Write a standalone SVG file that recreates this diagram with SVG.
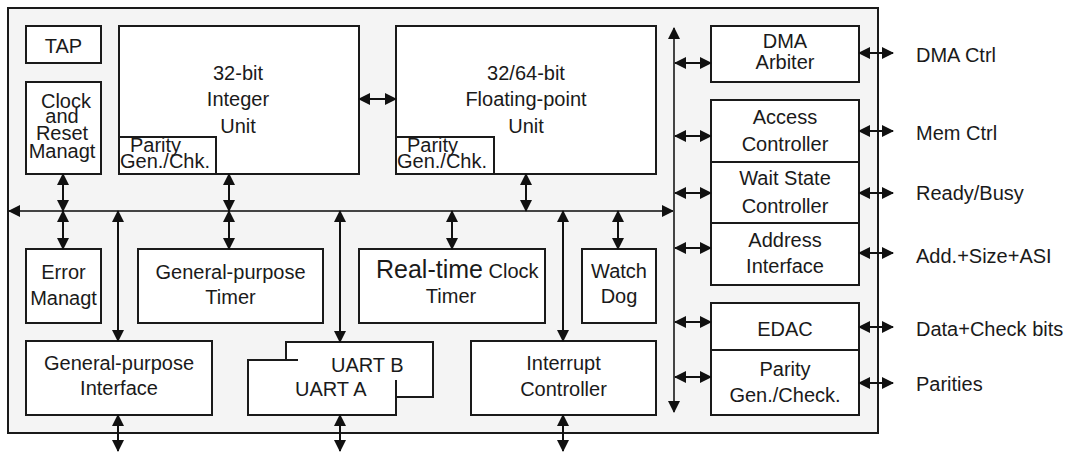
<svg xmlns="http://www.w3.org/2000/svg" width="1073" height="453" viewBox="0 0 1073 453">
<style>
.box{fill:#fff;stroke:#1a1a1a;stroke-width:2}
.t{font-family:"Liberation Sans",Arial,sans-serif;font-size:20px;fill:#1a1a1a;text-anchor:middle}
.ts{font-family:"Liberation Sans",Arial,sans-serif;font-size:20px;fill:#1a1a1a}
.c{fill:none;stroke:#111;stroke-width:2;marker-start:url(#ah);marker-end:url(#ah)}
.bus{fill:none;stroke:#444;stroke-width:2;marker-start:url(#ah);marker-end:url(#ah)}
</style>
<defs>
<marker id="ah" viewBox="0 0 12 12" refX="11" refY="6" markerWidth="12" markerHeight="12" markerUnits="userSpaceOnUse" orient="auto-start-reverse"><path d="M0,0 L12,6 L0,12 z" fill="#111"/></marker>
</defs>
<rect x="8" y="8" width="870" height="425" fill="#f4f4f4" stroke="#1a1a1a" stroke-width="2"/>

<g id="tap"><rect class="box" x="26" y="26" width="75" height="37"/><text class="t" x="63.5" y="53">TAP</text></g>
<g id="clock-reset"><rect class="box" x="26" y="82" width="75" height="92"/>
<text class="t" x="66" y="108">Clock</text><text class="t" x="62" y="123">and</text><text class="t" x="62" y="140">Reset</text><text class="t" x="62" y="158">Managt</text></g>
<g id="integer-unit"><rect class="box" x="119" y="26" width="240" height="148"/>
<text class="t" x="238" y="80">32-bit</text><text class="t" x="238" y="106">Integer</text><text class="t" x="238" y="133">Unit</text>
<rect class="box" x="119" y="137" width="97" height="37"/>
<text class="ts" x="130" y="152">Parity</text><text class="ts" x="120" y="168">Gen./Chk.</text></g>
<g id="fpu"><rect class="box" x="396" y="26" width="260" height="148"/>
<text class="t" x="526" y="80">32/64-bit</text><text class="t" x="526" y="106">Floating-point</text><text class="t" x="526" y="133">Unit</text>
<rect class="box" x="396" y="137" width="98" height="37"/>
<text class="ts" x="407" y="152">Parity</text><text class="ts" x="397" y="168">Gen./Chk.</text></g>

<g id="dma-arbiter"><rect class="box" x="711" y="26" width="148" height="56"/><text class="t" x="785" y="48">DMA</text><text class="t" x="785" y="69">Arbiter</text></g>
<g id="access-controller"><rect class="box" x="711" y="100" width="148" height="62"/><text class="t" x="785" y="124">Access</text><text class="t" x="785" y="151">Controller</text></g>
<g id="wait-state"><rect class="box" x="711" y="162" width="148" height="61"/><text class="t" x="785" y="185">Wait State</text><text class="t" x="785" y="213">Controller</text></g>
<g id="address-interface"><rect class="box" x="711" y="223" width="148" height="62"/><text class="t" x="785" y="247">Address</text><text class="t" x="785" y="273">Interface</text></g>
<g id="edac"><rect class="box" x="711" y="303" width="148" height="47"/><text class="t" x="785" y="336">EDAC</text></g>
<g id="parity-gen"><rect class="box" x="711" y="350" width="148" height="65"/><text class="t" x="785" y="376">Parity</text><text class="t" x="785" y="402">Gen./Check.</text></g>

<g id="error-managt"><rect class="box" x="26" y="249" width="75" height="74"/><text class="t" x="63.5" y="279">Error</text><text class="t" x="63.5" y="305">Managt</text></g>
<g id="gp-timer"><rect class="box" x="138" y="249" width="185" height="74"/><text class="t" x="230.5" y="279" font-size="21">General-purpose</text><text class="t" x="230.5" y="304">Timer</text></g>
<g id="rtc"><rect class="box" x="359" y="249" width="186" height="74"/><text class="ts" x="376" y="278"><tspan font-size="25">Real-time</tspan> Clock</text><text class="t" x="451" y="303">Timer</text></g>
<g id="watchdog"><rect class="box" x="582" y="249" width="74" height="74"/><text class="t" x="619" y="278">Watch</text><text class="t" x="619" y="303">Dog</text></g>
<g id="gp-interface"><rect class="box" x="26" y="341" width="186" height="74"/><text class="t" x="119" y="370" font-size="21">General-purpose</text><text class="t" x="119" y="395">Interface</text></g>
<g id="uart"><rect class="box" x="286" y="342" width="147" height="55"/>
<rect x="248" y="360" width="148" height="55" fill="#fff"/>
<path d="M298,360 H248 V415 H396 V380" fill="none" stroke="#1a1a1a" stroke-width="2"/>
<text class="ts" x="331" y="372">UART B</text><text class="ts" x="295" y="396">UART A</text></g>
<g id="interrupt-controller"><rect class="box" x="471" y="341" width="185" height="74"/><text class="t" x="563.5" y="370">Interrupt</text><text class="t" x="563.5" y="396">Controller</text></g>

<g id="labels">
<text class="ts" x="916" y="62">DMA Ctrl</text>
<text class="ts" x="916" y="140">Mem Ctrl</text>
<text class="ts" x="916" y="200">Ready/Busy</text>
<text class="ts" x="916" y="263">Add.+Size+ASI</text>
<text class="ts" x="916" y="336">Data+Check bits</text>
<text class="ts" x="916" y="391">Parities</text>
</g>

<g id="connectors">
<path class="bus" d="M9,211 H673"/>
<path class="bus" d="M674,28 V412"/>
<path class="c" d="M359,99 H396"/>
<path class="c" d="M63,174 V211"/>
<path class="c" d="M63,211 V249"/>
<path class="c" d="M229,174 V211"/>
<path class="c" d="M229,211 V249"/>
<path class="c" d="M526,174 V211"/>
<path class="c" d="M452,211 V249"/>
<path class="c" d="M618,211 V249"/>
<path class="c" d="M118,211 V341"/>
<path class="c" d="M340,211 V342"/>
<path class="c" d="M563,211 V341"/>
<path class="c" d="M118,415 V451"/>
<path class="c" d="M340,415 V451"/>
<path class="c" d="M563,415 V451"/>
<path class="c" d="M675,63 H711"/>
<path class="c" d="M675,136 H711"/>
<path class="c" d="M675,193 H711"/>
<path class="c" d="M675,248 H711"/>
<path class="c" d="M675,322 H711"/>
<path class="c" d="M675,377 H711"/>
<path class="c" d="M859,53 H893"/>
<path class="c" d="M859,131 H893"/>
<path class="c" d="M859,193 H893"/>
<path class="c" d="M859,253 H893"/>
<path class="c" d="M859,327 H893"/>
<path class="c" d="M859,383 H893"/>
</g>
</svg>
